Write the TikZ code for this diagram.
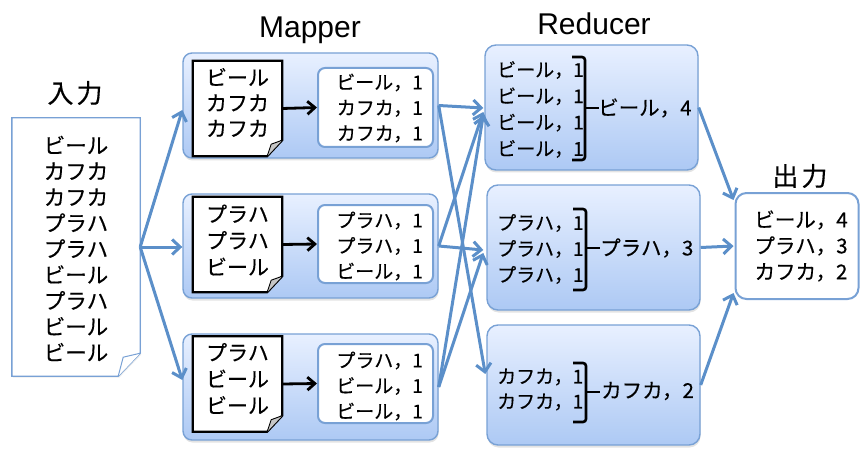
\documentclass[tikz,border=0pt]{standalone}
\usepackage{fontspec}
\setmainfont{Liberation Sans}
\newfontfamily\jp[FakeBold=0.4]{Noto Sans CJK JP}
\usetikzlibrary{arrows.meta,shadows,calc}
\definecolor{blueline}{HTML}{5B8FC9}
\definecolor{boxedge}{HTML}{78A1D5}
\definecolor{boxtop}{HTML}{E8F0FF}
\definecolor{boxbot}{HTML}{ADC9F4}
\newcommand\mapdoc[1]{%
  \draw[docline] (#1.north west) -- (#1.north east) -- ($(#1.south east)+(0,-16)$)
    -- ($(#1.south east)+(-15,0)$) -- (#1.south west) -- cycle;
  \draw[line width=0.9pt, fill=gray!45] ($(#1.south east)+(0,-16)$) -- ($(#1.south east)+(-11,-12)$)
    -- ($(#1.south east)+(-15,0)$);}
\newcommand\redbrk[4]{% x, top, bottom, mid
  \draw[bracketline, rounded corners=3pt] (#1-13,#2) -- (#1,#2) -- (#1,#3) -- (#1-13,#3);
  \draw[bracketline] (#1,#4) -- (#1+14,#4);}
\begin{document}
\begin{tikzpicture}[x=1pt,y=-1pt,
  bluebox/.style={draw=boxedge, line width=1.4pt, top color=boxtop, bottom color=boxbot,
    drop shadow={opacity=0.22, shadow xshift=0.5pt, shadow yshift=-2.5pt}, inner sep=0pt},
  whitebox/.style={draw=boxedge, line width=2pt, fill=white, rounded corners=7pt, inner sep=0pt},
  docline/.style={draw=black, line width=2.2pt, fill=white},
  bracketline/.style={line width=2.6pt, black},
  shell/.style={inner sep=0pt, draw=none},
  jtext/.style={font=\jp\fontsize{19}{25.5}\selectfont, inner sep=0pt},
  bigtext/.style={font=\jp\fontsize{20.5}{26}\selectfont, inner sep=0pt},
  titletext/.style={font=\fontsize{30}{32}\selectfont, inner sep=0pt},
  jtitle/.style={font=\jp\fontsize{26}{28}\selectfont, inner sep=0pt},
  flow/.style={draw=blueline, line width=3pt, -{Straight Barb[length=8pt,width=15pt]}},
  blackflow/.style={draw=black, line width=2.8pt, -{Straight Barb[length=7.5pt,width=13pt]}}
]
\useasboundingbox (0,0) rectangle (861,449);

% ---- titles
\node[jtitle] (tin) at (75,93) {入\hspace{3pt}力};
\node[titletext] (tmap) at (310,30) {Mapper};
\node[titletext] (tred) at (594,24) {Reducer};
\node[jtitle] (tout) at (800,176) {出\hspace{3pt}力};

% ---- input document
\node[shell, minimum width=128pt, minimum height=258pt] (in) at (76,247) {};
\draw[draw=boxedge, line width=1.4pt, fill=white,
    drop shadow={opacity=0.15, shadow xshift=1pt, shadow yshift=-1.5pt}]
  (in.north west) -- (in.north east) -- ($(in.south east)+(0,-23)$)
  -- ($(in.south east)+(-22,0)$) -- (in.south west) -- cycle;
\draw[draw=boxedge, line width=1pt, fill=white]
  ($(in.south east)+(0,-23)$) -- ($(in.south east)+(-17,-19)$) -- ($(in.south east)+(-22,0)$);
\node[jtext, align=center, font=\jp\fontsize{21.5}{25.9}\selectfont] (intext) at (76,248.5)
  {ビール\\カフカ\\カフカ\\プラハ\\プラハ\\ビール\\プラハ\\ビール\\ビール};

% ---- mappers
\node[bluebox, rounded corners=9pt, minimum width=255pt, minimum height=105pt] (m1) at (310.5,105.5) {};
\node[bluebox, rounded corners=9pt, minimum width=255pt, minimum height=104pt] (m2) at (310.5,246) {};
\node[bluebox, rounded corners=9pt, minimum width=255pt, minimum height=106pt] (m3) at (310.5,387) {};

\node[shell, minimum width=89pt, minimum height=95pt] (d1) at (237.5,108.5) {};
\node[shell, minimum width=89pt, minimum height=95pt] (d2) at (237.5,244.5) {};
\node[shell, minimum width=89pt, minimum height=95pt] (d3) at (237.5,384) {};
\mapdoc{d1}\mapdoc{d2}\mapdoc{d3}
\node[jtext, align=center, font=\jp\fontsize{21}{25.5}\selectfont] (dt1) at (237.5,102.5) {ビール\\カフカ\\カフカ};
\node[jtext, align=center, font=\jp\fontsize{21}{26.5}\selectfont] (dt2) at (237.5,240) {プラハ\\プラハ\\ビール};
\node[jtext, align=center, font=\jp\fontsize{21}{26.5}\selectfont] (dt3) at (237.5,378.5) {プラハ\\ビール\\ビール};

\node[whitebox, minimum width=115pt, minimum height=79pt] (o1) at (375.5,107.5) {};
\node[whitebox, minimum width=115pt, minimum height=78pt] (o2) at (375.5,244) {};
\node[whitebox, minimum width=115pt, minimum height=79pt] (o3) at (375.5,383.5) {};
\node[jtext, align=right, anchor=east] (ot1) at (423,108) {ビール，1\\カフカ，1\\カフカ，1};
\node[jtext, align=right, anchor=east] (ot2) at (423,246) {プラハ，1\\プラハ，1\\ビール，1};
\node[jtext, align=right, anchor=east] (ot3) at (423,386) {プラハ，1\\ビール，1\\ビール，1};

\draw[blackflow] (d1.east) -- (o1.west);
\draw[blackflow] (d2.east) -- (o2.west);
\draw[blackflow] (d3.east) -- (o3.west);

% ---- reducers
\node[bluebox, rounded corners=11pt, minimum width=213pt, minimum height=125pt] (r1) at (591.5,107.5) {};
\node[bluebox, rounded corners=11pt, minimum width=213pt, minimum height=125pt] (r2) at (593.5,247.5) {};
\node[bluebox, rounded corners=11pt, minimum width=213pt, minimum height=120pt] (r3) at (593.5,385) {};

\node[jtext, align=left, anchor=west, font=\jp\fontsize{19}{26.3}\selectfont] (rt1) at (497,109.5)
  {ビール，1\\ビール，1\\ビール，1\\ビール，1};
\node[jtext, align=left, anchor=west, font=\jp\fontsize{19}{26}\selectfont] (rt2) at (497,249)
  {プラハ，1\\プラハ，1\\プラハ，1};
\node[jtext, align=left, anchor=west, font=\jp\fontsize{19}{25}\selectfont] (rt3) at (497,389.5)
  {カフカ，1\\カフカ，1};
\redbrk{585}{57}{160}{108}
\redbrk{586}{209}{290}{248}
\redbrk{586}{363}{422}{392}
\node[bigtext, anchor=west] (rs1) at (598,108) {ビール，4};
\node[bigtext, anchor=west] (rs2) at (600,248) {プラハ，3};
\node[bigtext, anchor=west] (rs3) at (601,391) {カフカ，2};

% ---- output
\node[draw=boxedge, line width=2pt, fill=white, rounded corners=11pt, minimum width=123pt,
  minimum height=106pt, inner sep=0pt] (out) at (797,246) {};
\node[bigtext, align=center] (outtext) at (801,246) {ビール，4\\プラハ，3\\カフカ，2};

% ---- connectors
\draw[flow] (in.east) -- ($(m1.west)+(0,4.5)$);
\draw[flow] (in.east) -- ($(m2.west)+(0,1)$);
\draw[flow] (in.east) -- ($(m3.west)+(0,-7)$);

\draw[flow] (m1.east) -- ($(r1.west)+(-1,0.5)$);
\draw[flow] (m1.east) -- ($(r3.west)+(-1,-11)$);
\draw[flow] (m2.east) -- ($(r1.west)+(-1,4.5)$);
\draw[flow] (m2.east) -- ($(r2.west)+(-3,2.5)$);
\draw[flow] (m3.east) -- ($(r1.west)+(-1,7.5)$);
\draw[flow] (m3.east) -- ($(r2.west)+(-3,5.5)$);

\draw[flow] (r1.east) -- ($(out.west)+(-1,-46)$);
\draw[flow] (r2.east) -- ($(out.west)+(-1,0)$);
\draw[flow] (r3.east) -- ($(out.west)+(-1,47)$);
\end{tikzpicture}
\end{document}
